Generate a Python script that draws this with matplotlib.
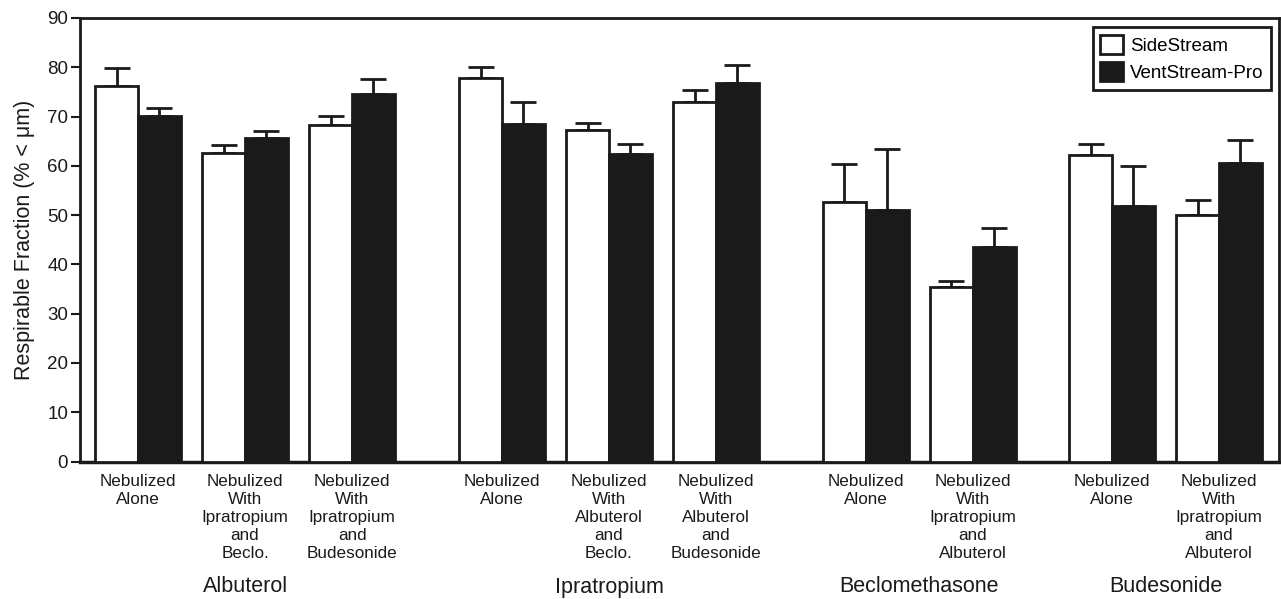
import numpy as np
import matplotlib.pyplot as plt
from matplotlib.patches import Patch
import matplotlib.transforms as mtransforms

plt.rcParams['font.family'] = ['Liberation Sans', 'DejaVu Sans']

# -- Data
conditions = ['Nebulized\nAlone',
              'Nebulized\nWith\nIpratropium\nand\nBeclo.',
              'Nebulized\nWith\nIpratropium\nand\nBudesonide',
              'Nebulized\nAlone',
              'Nebulized\nWith\nAlbuterol\nand\nBeclo.',
              'Nebulized\nWith\nAlbuterol\nand\nBudesonide',
              'Nebulized\nAlone',
              'Nebulized\nWith\nIpratropium\nand\nAlbuterol',
              'Nebulized\nAlone',
              'Nebulized\nWith\nIpratropium\nand\nAlbuterol']
groups = ['Albuterol', 'Ipratropium', 'Beclomethasone', 'Budesonide']
group_sizes = [3, 3, 2, 2]

sidestream = [76.3, 62.6, 68.3, 77.8, 67.3, 72.9, 52.7, 35.5, 62.1, 50.0]
sidestream_sd = [3.6, 1.6, 1.9, 2.2, 1.3, 2.4, 7.6, 1.1, 2.4, 3.0]
ventstream = [70.2, 65.6, 74.6, 68.5, 62.3, 76.8, 51.1, 43.6, 51.9, 60.6]
ventstream_sd = [1.5, 1.5, 3.0, 4.5, 2.2, 3.7, 12.3, 3.8, 8.1, 4.6]

# -- Layout: pairs one unit apart, wider gaps between drug groups
group_gaps = [0, 1.4, 1.4, 1.3]
x = []
pos = 0.0
for gi, n in enumerate(group_sizes):
    if gi > 0:
        pos += group_gaps[gi] - 1
    for k in range(n):
        x.append(pos)
        pos += 1
x = np.array(x)
w = 0.4
ink = '#1a1a1a'

fig = plt.figure(figsize=(12.81, 5.99), dpi=100)
ax = fig.add_axes([80 / 1281, 1 - 461.5 / 599, 1199 / 1281, 443.5 / 599])

ax.bar(x - w / 2, sidestream, w, color='white', edgecolor=ink, linewidth=2, zorder=3)
ax.bar(x + w / 2, ventstream, w, color=ink, edgecolor=ink, linewidth=2, zorder=3)

zeros = np.zeros(len(x))
ax.errorbar(x - w / 2, sidestream, yerr=[zeros, sidestream_sd], fmt='none',
            ecolor=ink, elinewidth=2, capsize=9.5, capthick=2, zorder=2)
ax.errorbar(x + w / 2, ventstream, yerr=[zeros, ventstream_sd], fmt='none',
            ecolor=ink, elinewidth=2, capsize=9.5, capthick=2, zorder=2)

ax.set_xlim(-0.542, 10.66)
ax.set_ylim(0, 90)
ax.set_yticks(np.arange(0, 91, 10))
ax.set_xticks([])
ax.tick_params(axis='y', direction='out', length=6.5, width=1.5, labelsize=13.5, colors=ink, pad=2)
for s in ax.spines.values():
    s.set_linewidth(2)
    s.set_color(ink)
ax.spines['bottom'].set_linewidth(2.5)

ax.set_ylabel('Respirable Fraction (% < μm)', fontsize=15.5, color=ink, labelpad=9)

# -- Category and group labels below the axis
trans = mtransforms.blended_transform_factory(ax.transData, fig.transFigure)
for xi, lab in zip(x, conditions):
    ax.text(xi, 1 - 474 / 599, lab, transform=trans, ha='center', va='top',
            fontsize=12.3, linespacing=1.25, color=ink)

start = 0
for g, n in zip(groups, group_sizes):
    xc = x[start:start + n].mean()
    ax.text(xc, 1 - 587 / 599, g, transform=trans, ha='center', va='center',
            fontsize=15.5, color=ink)
    start += n

handles = [Patch(facecolor='white', edgecolor=ink, linewidth=2, label='SideStream'),
           Patch(facecolor=ink, edgecolor=ink, linewidth=2, label='VentStream-Pro')]
leg = ax.legend(handles=handles, loc='upper right', bbox_to_anchor=(0.9935, 0.979),
                fontsize=13.5, fancybox=False, framealpha=1, handlelength=1.2,
                handleheight=1.2, handletextpad=0.4, borderpad=0.4, labelspacing=0.4,
                borderaxespad=0)
leg.get_frame().set_edgecolor(ink)
leg.get_frame().set_linewidth(2)

plt.savefig('out.png', dpi=100)
